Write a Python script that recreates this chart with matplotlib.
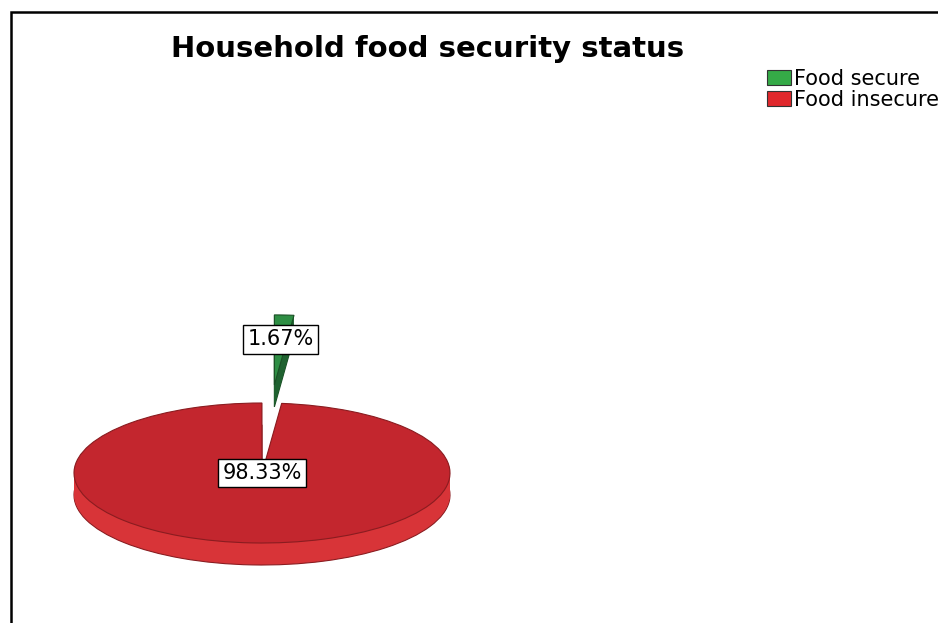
import matplotlib.pyplot as plt
import numpy as np
from matplotlib.patches import Patch
from matplotlib.lines import Line2D

labels = ['Food secure', 'Food insecure']
percent = [1.67, 98.33]
explode = [1.26, 0]
top_colors = ['#2E8E44', '#C3262E']
side_colors = ['#1F6230', '#D83438']
edge_colors = ['#1A4F25', '#8A1C20']
legend_colors = ['#35AA47', '#E0282C']

W, H = 938, 623
fig = plt.figure(figsize=(W / 100, H / 100), dpi=100)

# black frame (left and top edges, rest is cut off in the source)
fig.add_artist(Line2D([11 / W, 11 / W, 1.0], [0, 1 - 12 / H, 1 - 12 / H],
                      color='black', lw=1.8, solid_joinstyle='miter'))

fig.text(428 / W, 1 - 49 / H, 'Household food security status',
         ha='center', va='center', fontsize=21, fontweight='bold')

# pie axes: ellipse radii 188 x 70 px, centre at (262, 473) px
rx, ry = 188, 70
cx, cy = 262, 473
xlo, xhi = -1.2, 1.2
ylo, yhi = -1.6, 2.6
ax = fig.add_axes([(cx + xlo * rx) / W, (H - cy + ylo * ry) / H,
                   (xhi - xlo) * rx / W, (yhi - ylo) * ry / H])

depth = 22 / ry
layers = np.linspace(depth, 0, 23)[:-1]
for i, d in enumerate(layers):
    w, _ = ax.pie(percent, explode=explode, startangle=84, colors=side_colors,
                  center=(0, -d), wedgeprops=dict(linewidth=0))
    w[0].set_zorder(1)
    w[1].set_zorder(3)
    if i == 0:
        for wd, ec in zip(w, edge_colors):
            wd.set_edgecolor(ec)
            wd.set_linewidth(0.8)

w, _, pct = ax.pie(percent, explode=explode, startangle=84, colors=top_colors,
                   autopct='%.2f%%', pctdistance=0.65,
                   wedgeprops=dict(linewidth=0.8),
                   textprops=dict(fontsize=15,
                                  bbox=dict(boxstyle='square,pad=0.2', fc='white',
                                            ec='black', lw=1)))
w[0].set_zorder(2)
w[1].set_zorder(4)
for wd, ec in zip(w, edge_colors):
    wd.set_edgecolor(ec)
pct[1].set_position((0, 0))
for t in pct:
    t.set_zorder(6)

ax.set_aspect('auto')
ax.set_xlim(xlo, xhi)
ax.set_ylim(ylo, yhi)
ax.axis('off')

handles = [Patch(fc=c, ec='#333333', lw=0.8) for c in legend_colors]
fig.legend(handles, labels, loc='upper left', bbox_to_anchor=(767 / W, 1 - 69 / H),
           frameon=False, fontsize=15, handlelength=1.15, handleheight=0.7,
           handletextpad=0.15, labelspacing=0.05, borderpad=0, borderaxespad=0)

fig.savefig('out.png', dpi=100)
